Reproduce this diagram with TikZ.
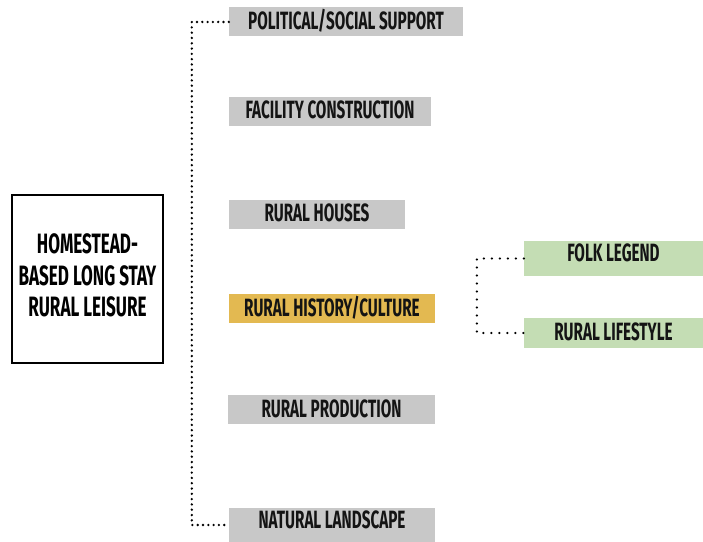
\documentclass[tikz,border=0pt]{standalone}
\usepackage{fontspec}
\newfontfamily\bebas[FakeStretch=0.61]{Fira Sans}
\definecolor{colGray}{HTML}{C8C8C8}
\definecolor{colGold}{HTML}{E3B951}
\definecolor{colGreen}{HTML}{C4DDB4}
\def\leaffont{\bebas\bfseries\fontsize{25bp}{28bp}\selectfont}
\def\rootfont{\bebas\bfseries\fontsize{28bp}{31.5bp}\selectfont}
\tikzset{
  leaf/.style={fill=colGray, inner sep=0pt, minimum height=29bp,
    text height=15bp, text depth=0pt, font=\leaffont, text=black!92},
  rootbox/.style={draw=black, line width=2bp, inner sep=0pt,
    minimum width=151bp, minimum height=168bp, align=center, font=\rootfont},
  trunk/.style={line width=2.6bp, line cap=round, dash pattern=on 0pt off 5.3bp},
  twig/.style={line width=2.4bp, line cap=round, dash pattern=on 0pt off 8bp}
}
\begin{document}
\begin{tikzpicture}[x=1bp, y=-1bp]
\useasboundingbox (0,0) rectangle (703,542);

% root
\node[rootbox, text depth=7bp] (root) at (87.5,279) {HOMESTEAD-\\BASED LONG STAY\\RURAL LEISURE};

% first level
\node[leaf, minimum width=234bp] (pol) at (346,22) {POLITICAL/SOCIAL SUPPORT};
\node[leaf, minimum width=202bp] (fac) at (330,111.5) {FACILITY CONSTRUCTION};
\node[leaf, minimum width=176bp] (hou) at (317,214.5) {RURAL HOUSES};
\node[leaf, minimum width=206bp, fill=colGold] (his) at (332,308.5) {RURAL HISTORY/CULTURE};
\node[leaf, minimum width=207bp] (pro) at (331.5,409.5) {RURAL PRODUCTION};
\node[leaf, minimum width=206bp, minimum height=34bp, text depth=9bp] (nat) at (332,525) {NATURAL LANDSCAPE};

% second level
\node[leaf, minimum width=179bp, minimum height=35bp, text depth=8bp, fill=colGreen] (folk) at (613.5,258.5) {FOLK LEGEND};
\node[leaf, minimum width=179bp, minimum height=30bp, fill=colGreen] (life) at (613.5,333) {RURAL LIFESTYLE};

% brackets
\draw[trunk] (pol.west) -- ++(-37,0) |- (nat.west);
\draw[twig] (folk.west) -- ++(-47,0) |- (life.west);

\end{tikzpicture}
\end{document}
